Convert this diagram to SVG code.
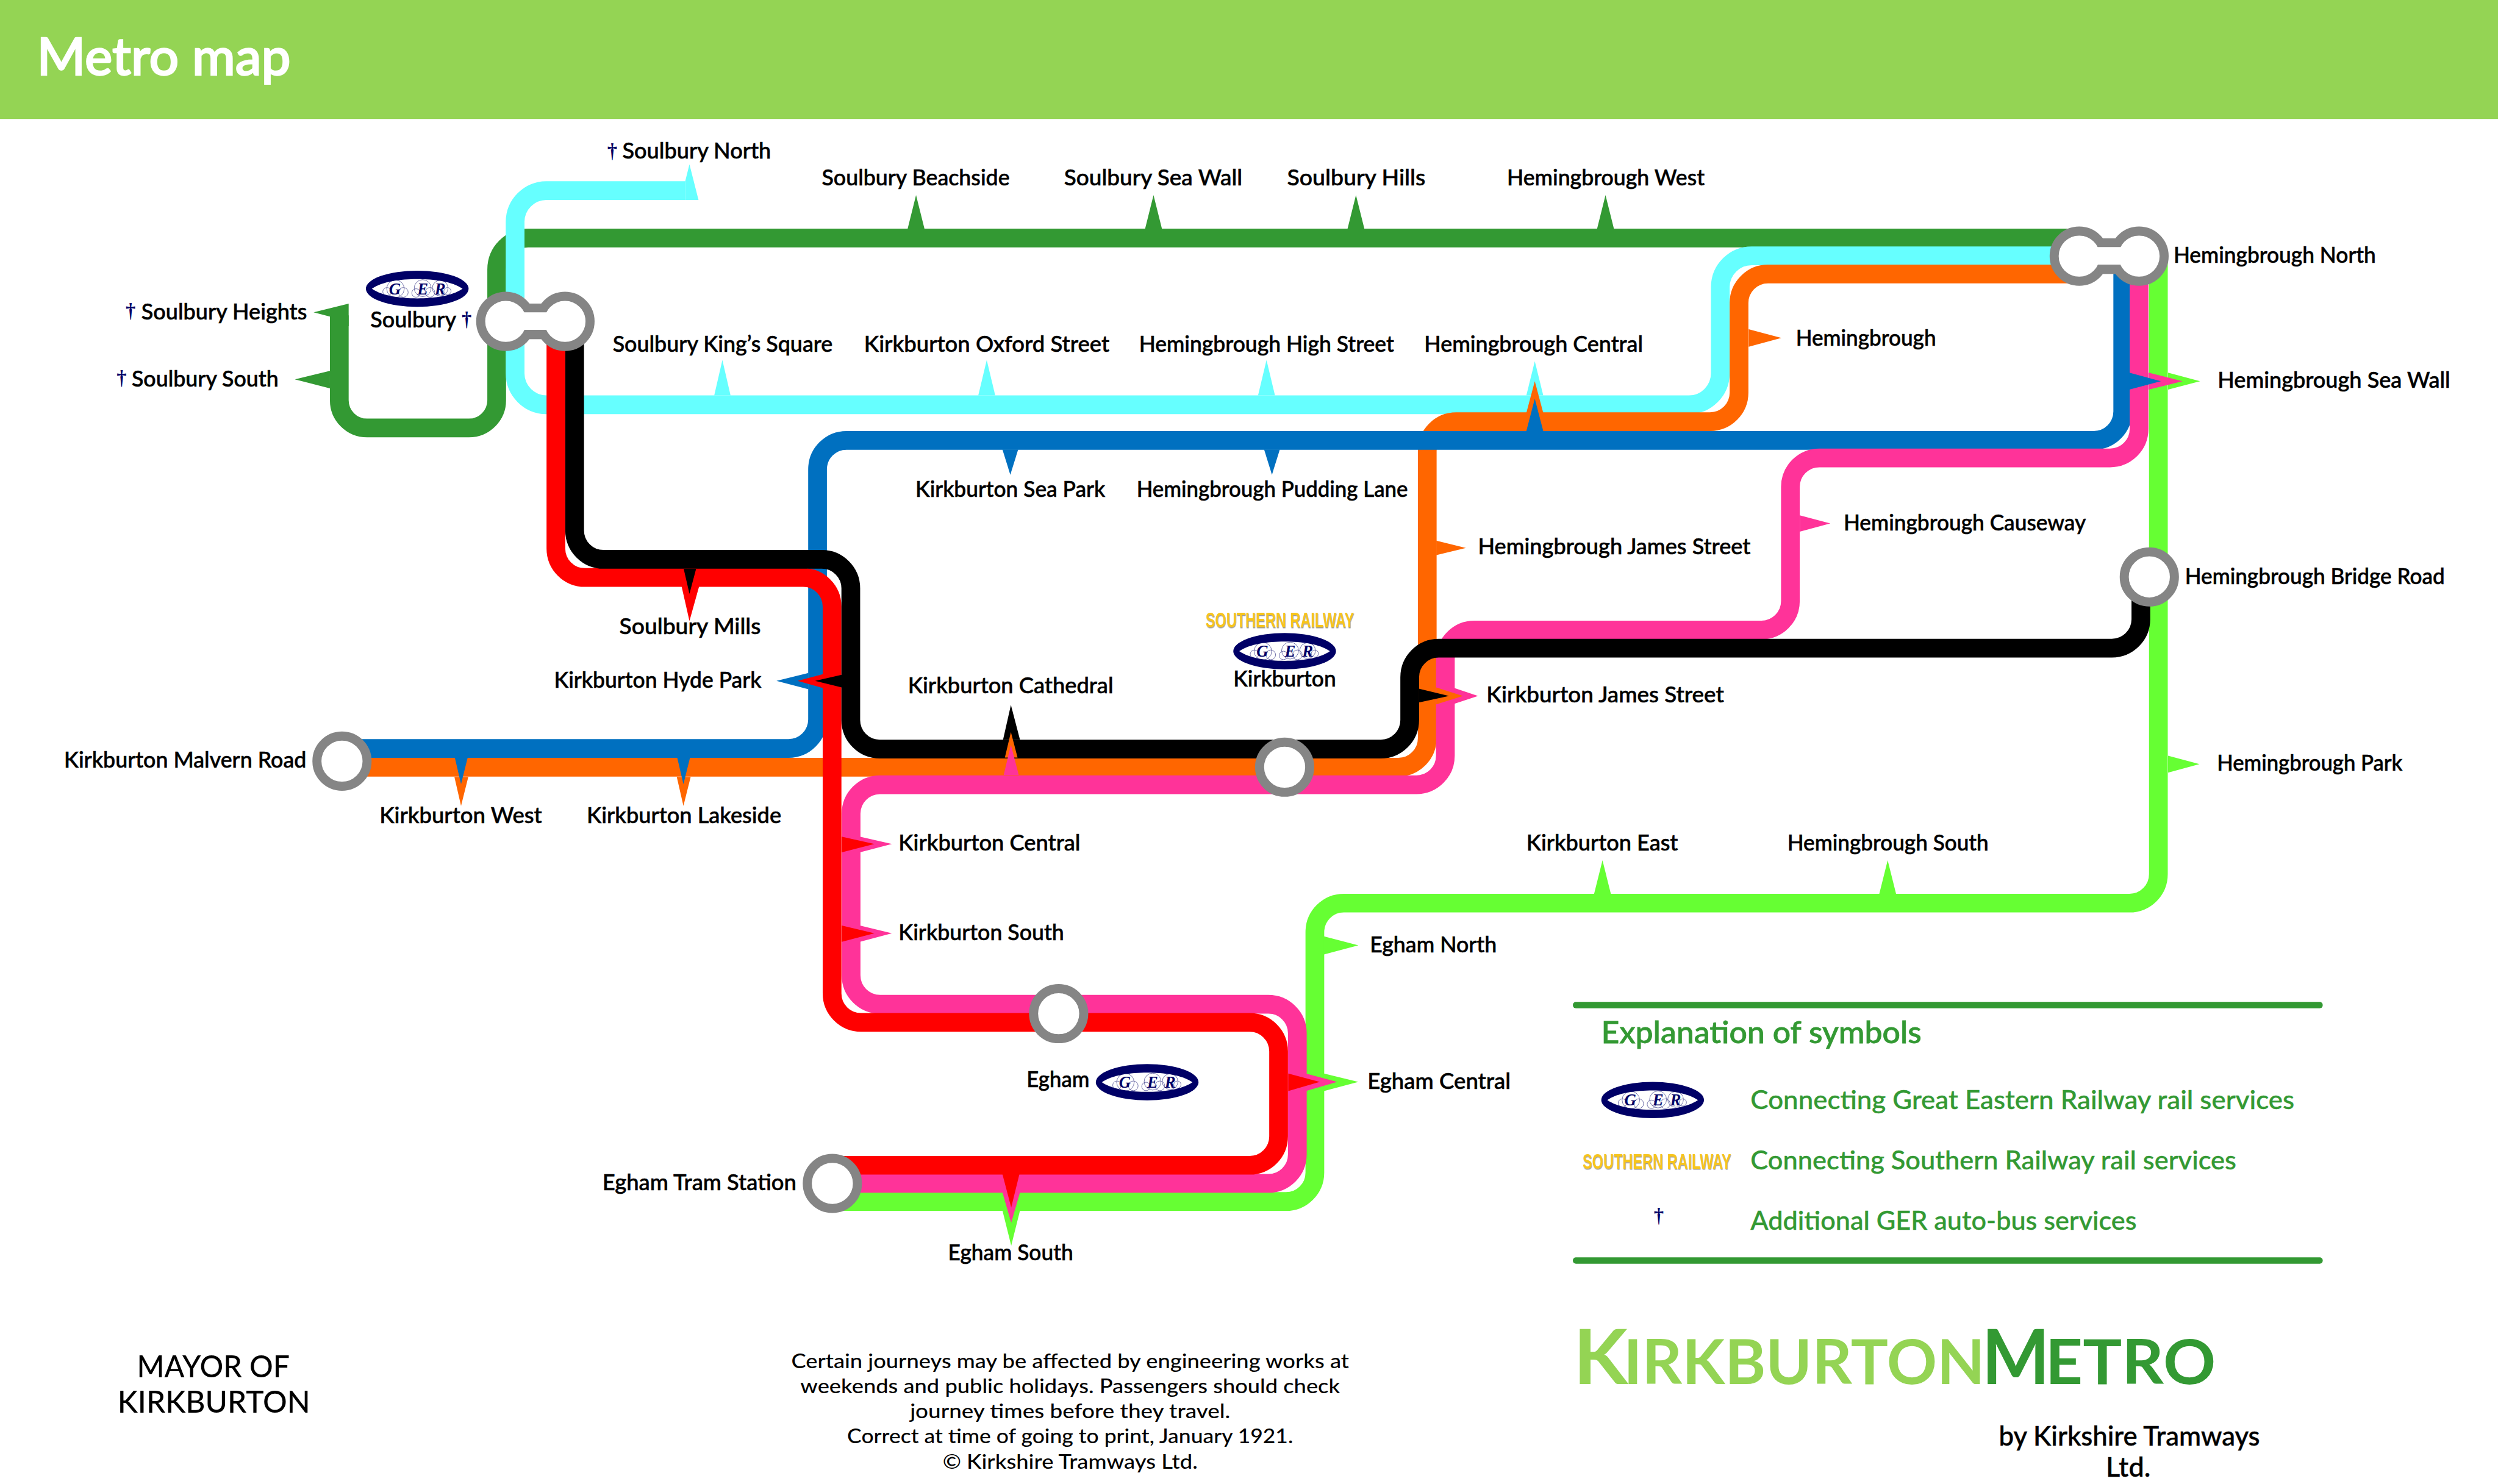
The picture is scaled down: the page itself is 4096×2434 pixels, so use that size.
<svg xmlns="http://www.w3.org/2000/svg" width="4096" height="2434" viewBox="0 0 4096 2434">
<style>
text{font-family:"Lato","Noto Sans",sans-serif;font-weight:500}
.s{font-size:36px;fill:#000;stroke:#000;stroke-width:.6}
.d{font-size:33px;fill:#000066;font-family:"Liberation Serif",serif;font-weight:700}
.l{font-size:42px;fill:#339933;stroke:#339933;stroke-width:.4}
.f{font-size:33px;fill:#000;text-anchor:middle}
.m{font-size:50px;fill:#000;text-anchor:middle}
.sr{font-size:36px;fill:#F7C51E;font-family:"Liberation Sans",sans-serif;font-weight:700;filter:url(#sh)}
.gl{font-family:"Liberation Serif",serif;font-style:italic;font-weight:700;font-size:27px;fill:#000066;text-anchor:middle}
.ln{fill:none;stroke-width:31}
.st{fill:#fff;stroke:#858585;stroke-width:15}
.lime{fill:#66FF33}.pink{fill:#FF3399}.red{fill:#FF0000}.blk{fill:#000}.org{fill:#FF6600}.blu{fill:#0070C0}.cya{fill:#66FFFF}.grn{fill:#339933}
</style>
<defs>
<filter id="sh" x="-5%" y="-20%" width="110%" height="150%"><feDropShadow dx="1" dy="1.5" stdDeviation="0.8" flood-color="#999"/></filter>
<g id="ger">
<path d="M-85,0A85,30 0 1 1 85,0A85,30 0 1 1 -85,0ZM-75,0C-58,-12 -28,-16 0,-16C28,-16 58,-12 75,0C58,12 28,16 0,16C-28,16 -58,12 -75,0Z" fill="#000066" fill-rule="evenodd"/>
<g fill="none" stroke="#000066" stroke-width="0.8" opacity=".7">
<circle cx="-36" cy="0" r="14.5"/><circle cx="-50" cy="5" r="7"/><circle cx="-23" cy="6" r="8"/>
<circle cx="9" cy="-1" r="14"/><circle cx="-2" cy="7" r="7"/><circle cx="21" cy="6" r="8"/>
<circle cx="38" cy="-1" r="13"/><circle cx="50" cy="4" r="6"/>
</g>
<text class="gl" x="-37" y="9">G</text>
<text class="gl" x="9" y="9">E</text>
<text class="gl" x="38" y="9">R</text>
</g>
</defs>
<rect width="4096" height="2434" fill="#fff"/>
<g transform="scale(0.9908)">
<g id="header"><rect width="4140" height="197" fill="#94D454"/>
<text x="61" y="124" font-size="86" fill="#fff" stroke="#fff" stroke-width="2.4" textLength="420" lengthAdjust="spacingAndGlyphs">Metro map</text></g>

<g id="connectors">
<path class="ln" stroke="#66FF33" d="M3572,424V1447A48,48 0 0 1 3524,1495H2224A48,48 0 0 0 2176,1543V1941A48,48 0 0 1 2128,1989H1377"/>
<path class="ln" stroke="#339933" d="M561.5,522V662A46,46 0 0 0 607.5,708.5H776A46,46 0 0 0 822,662V446A52,52 0 0 1 874,394H3441"/>
<path class="grn" d="M577,502.5L519,517L546,524V540H577Z"/>
<path class="ln" stroke="#66FFFF" d="M1134,315.5H904A52,52 0 0 0 852.5,367V618A52,52 0 0 0 904,670H2795A52,52 0 0 0 2847,618V475A52,52 0 0 1 2899,423.5H3441"/>
<path class="cya" d="M1134,300L1141,272L1156,331H1134Z"/>
<path class="ln" stroke="#FF6600" d="M566,1270H2314A48,48 0 0 0 2362,1222V746A48,48 0 0 1 2410,698H2830A48,48 0 0 0 2878,650V502A48,48 0 0 1 2926,453.5H3441"/>
<path class="ln" stroke="#0070C0" d="M566,1239H1305A48,48 0 0 0 1353,1191V777A48,48 0 0 1 1401,729H3465A48,48 0 0 0 3513,681V424"/>
<path class="ln" stroke="#FF3399" d="M3540,424V710A48,48 0 0 1 3492,758H3011A48,48 0 0 0 2963,806V995A48,48 0 0 1 2915,1043H2440A48,48 0 0 0 2392,1091V1251A48,48 0 0 1 2344,1299H1456A48,48 0 0 0 1408.5,1347V1614A48,48 0 0 0 1456.5,1662.5H2099A48,48 0 0 1 2147,1710V1911A48,48 0 0 1 2099,1959H1377"/>
<path class="ln" stroke="#FF0000" d="M920,532V908A48,48 0 0 0 968,956H1329A48,48 0 0 1 1377,1004V1644.5A48,48 0 0 0 1425,1692.5H2068A48,48 0 0 1 2116,1740.5V1881A48,48 0 0 1 2068,1929H1377"/>
<path class="ln" stroke="#000" d="M951,532V878A48,48 0 0 0 999,926H1360A48,48 0 0 1 1408,974V1192A48,48 0 0 0 1456,1240H2285A48,48 0 0 0 2333,1192V1121A48,48 0 0 1 2381,1073H3495A48,48 0 0 0 3543,1025V955"/>
</g>

<g id="st-soulbury-north"><text class="d" x="1005" y="261">†</text><text class="s" x="1030" y="262" textLength="246" lengthAdjust="spacingAndGlyphs">Soulbury North</text></g>
<g id="st-soulbury-beachside"><polygon class="grn" points="1502,379 1516,323 1530,379"/><text class="s" x="1360" y="307" textLength="311" lengthAdjust="spacingAndGlyphs">Soulbury Beachside</text></g>
<g id="st-soulbury-sea-wall"><polygon class="grn" points="1895,379 1909,323 1923,379"/><text class="s" x="1761" y="307" textLength="295" lengthAdjust="spacingAndGlyphs">Soulbury Sea Wall</text></g>
<g id="st-soulbury-hills"><polygon class="grn" points="2230,379 2244,323 2258,379"/><text class="s" x="2130" y="307" textLength="229" lengthAdjust="spacingAndGlyphs">Soulbury Hills</text></g>
<g id="st-hemingbrough-west"><polygon class="grn" points="2643,379 2657,323 2671,379"/><text class="s" x="2494" y="307" textLength="327" lengthAdjust="spacingAndGlyphs">Hemingbrough West</text></g>

<g id="st-soulbury-heights"><text class="d" x="208" y="526">†</text><text class="s" x="234" y="529" textLength="274" lengthAdjust="spacingAndGlyphs">Soulbury Heights</text></g>
<g id="st-soulbury-south"><polygon class="grn" points="546,614 488,628 546,643"/><text class="d" x="193" y="637">†</text><text class="s" x="218" y="640" textLength="243" lengthAdjust="spacingAndGlyphs">Soulbury South</text></g>

<g id="st-soulbury"><use href="#ger" x="690.5" y="478"/><text class="s" x="613" y="542" textLength="142" lengthAdjust="spacingAndGlyphs">Soulbury</text><text class="d" x="764" y="540">†</text>
<circle class="st" cx="837" cy="532" r="41.5"/><circle class="st" cx="935" cy="532" r="41.5"/><rect x="868" y="502.5" width="36" height="59" fill="#858585"/><rect x="860" y="517" width="52" height="29" fill="#fff"/></g>

<g id="st-soulbury-kings-square"><polygon class="cya" points="1182,654.5 1195.5,596 1209,654.5"/><text class="s" x="1014" y="582" textLength="364" lengthAdjust="spacingAndGlyphs">Soulbury King’s Square</text></g>
<g id="st-kirkburton-oxford-street"><polygon class="cya" points="1619,654.5 1633,596 1647,654.5"/><text class="s" x="1430" y="582" textLength="406" lengthAdjust="spacingAndGlyphs">Kirkburton Oxford Street</text></g>
<g id="st-hemingbrough-high-street"><polygon class="cya" points="2082,654.5 2096,596 2110,654.5"/><text class="s" x="1885" y="582" textLength="422" lengthAdjust="spacingAndGlyphs">Hemingbrough High Street</text></g>
<g id="st-hemingbrough-central"><polygon class="cya" points="2526,654.5 2540,598 2554,654.5"/><polygon class="org" points="2526,683.5 2540,631 2554,683.5"/><polygon class="blu" points="2526,713.5 2540,660 2554,713.5"/><text class="s" x="2357" y="582" textLength="362" lengthAdjust="spacingAndGlyphs">Hemingbrough Central</text></g>
<g id="st-hemingbrough"><polygon class="org" points="2894,545 2948,559.5 2894,574"/><text class="s" x="2972" y="572" textLength="232" lengthAdjust="spacingAndGlyphs">Hemingbrough</text></g>
<g id="st-kirkburton-sea-park"><polygon class="blu" points="1659,744 1672,786 1685,744"/><text class="s" x="1515" y="823" textLength="314" lengthAdjust="spacingAndGlyphs">Kirkburton Sea Park</text></g>
<g id="st-hemingbrough-pudding-lane"><polygon class="blu" points="2092,744 2105,786 2118,744"/><text class="s" x="1881" y="823" textLength="449" lengthAdjust="spacingAndGlyphs">Hemingbrough Pudding Lane</text></g>
<g id="st-hemingbrough-james-street"><polygon class="org" points="2377,895 2426,907 2377,919"/><text class="s" x="2446" y="917" textLength="451" lengthAdjust="spacingAndGlyphs">Hemingbrough James Street</text></g>
<g id="st-hemingbrough-causeway"><polygon class="pink" points="2978.6,853 3029,866.5 2978.6,880"/><text class="s" x="3051" y="878" textLength="401" lengthAdjust="spacingAndGlyphs">Hemingbrough Causeway</text></g>
<g id="st-soulbury-mills"><polygon class="red" points="1128,970.7 1141,1028 1157,970.7"/><polygon class="blk" points="1131.5,941.7 1141,983 1152,941.7"/><text class="s" x="1025" y="1050" textLength="234" lengthAdjust="spacingAndGlyphs">Soulbury Mills</text></g>
<g id="st-kirkburton-hyde-park"><polygon class="blu" points="1338,1114 1285,1127 1338,1141"/><polygon class="red" points="1362,1116 1320,1127 1362,1139"/><polygon class="blk" points="1393,1117 1349,1127 1393,1138"/><text class="s" x="917" y="1138" textLength="343" lengthAdjust="spacingAndGlyphs">Kirkburton Hyde Park</text></g>
<g id="st-kirkburton-cathedral"><polygon class="blk" points="1660,1224.5 1673,1167 1688,1224.5"/><polygon class="org" points="1663,1254 1673,1212 1684,1254"/><polygon class="pink" points="1661,1283 1673,1233 1686,1283"/><text class="s" x="1502.6" y="1148" textLength="340" lengthAdjust="spacingAndGlyphs">Kirkburton Cathedral</text></g>
<g id="st-kirkburton"><text class="sr" transform="translate(1995,1039) scale(.66,1)">SOUTHERN RAILWAY</text><use href="#ger" x="2126" y="1078"/><text class="s" x="2041" y="1136" textLength="170" lengthAdjust="spacingAndGlyphs">Kirkburton</text><circle class="st" cx="2126" cy="1270" r="41.5"/></g>
<g id="st-kirkburton-james-street"><polygon class="pink" points="2407,1139 2446,1152 2407,1165"/><polygon class="org" points="2377,1138 2421,1152 2377,1166"/><polygon class="blk" points="2348,1140 2398,1152 2348,1163"/><text class="s" x="2460" y="1163" textLength="393" lengthAdjust="spacingAndGlyphs">Kirkburton James Street</text></g>
<g id="st-kirkburton-malvern-road"><text class="s" x="106" y="1271" textLength="401" lengthAdjust="spacingAndGlyphs">Kirkburton Malvern Road</text><circle class="st" cx="566" cy="1260" r="41.5"/></g>
<g id="st-kirkburton-west"><polygon class="org" points="752,1286 763,1334 775,1286"/><polygon class="blu" points="752.7,1254 763,1298 774,1254"/><text class="s" x="628" y="1363" textLength="269" lengthAdjust="spacingAndGlyphs">Kirkburton West</text></g>
<g id="st-kirkburton-lakeside"><polygon class="org" points="1120,1286 1131,1334 1143,1286"/><polygon class="blu" points="1120.7,1254 1131,1298 1142,1254"/><text class="s" x="971" y="1363" textLength="322" lengthAdjust="spacingAndGlyphs">Kirkburton Lakeside</text></g>
<g id="st-kirkburton-central"><polygon class="pink" points="1423,1385 1476,1397 1423,1411"/><polygon class="red" points="1393,1385 1447,1397 1393,1411"/><text class="s" x="1487" y="1408" textLength="301" lengthAdjust="spacingAndGlyphs">Kirkburton Central</text></g>
<g id="st-kirkburton-south"><polygon class="pink" points="1423,1532 1476,1545 1423,1559"/><polygon class="red" points="1393,1532 1447,1545 1393,1559"/><text class="s" x="1487" y="1556" textLength="274" lengthAdjust="spacingAndGlyphs">Kirkburton South</text></g>
<g id="st-egham"><circle class="st" cx="1752" cy="1678" r="41.5"/><text class="s" x="1699" y="1800" textLength="104" lengthAdjust="spacingAndGlyphs">Egham</text><use href="#ger" x="1898.5" y="1791.5"/></g>
<g id="st-egham-tram-station"><text class="s" x="997" y="1970" textLength="321" lengthAdjust="spacingAndGlyphs">Egham Tram Station</text><circle class="st" cx="1377.5" cy="1959" r="41.5"/></g>
<g id="st-egham-south"><polygon class="lime" points="1659,2004 1673.5,2062 1688,2004"/><polygon class="pink" points="1659,1974 1673.5,2024 1688,1974"/><polygon class="red" points="1659,1944 1673.5,1999 1687,1944"/><text class="s" x="1569" y="2086" textLength="207" lengthAdjust="spacingAndGlyphs">Egham South</text></g>
<g id="st-egham-central"><polygon class="lime" points="2191,1777 2248,1791 2191,1806"/><polygon class="pink" points="2161,1777 2213,1791 2161,1806"/><polygon class="red" points="2132,1777 2184,1791 2132,1806"/><text class="s" x="2263" y="1803" textLength="237" lengthAdjust="spacingAndGlyphs">Egham Central</text></g>
<g id="st-egham-north"><polygon class="lime" points="2191,1550 2248,1565 2191,1580"/><text class="s" x="2267" y="1576" textLength="210" lengthAdjust="spacingAndGlyphs">Egham North</text></g>
<g id="st-kirkburton-east"><polygon class="lime" points="2638,1480 2652,1424 2666,1480"/><text class="s" x="2526" y="1408" textLength="251" lengthAdjust="spacingAndGlyphs">Kirkburton East</text></g>
<g id="st-hemingbrough-south"><polygon class="lime" points="3110,1480 3124,1424 3138,1480"/><text class="s" x="2958" y="1408" textLength="333" lengthAdjust="spacingAndGlyphs">Hemingbrough South</text></g>
<g id="st-hemingbrough-park"><polygon class="lime" points="3588,1251 3640,1265 3588,1279"/><text class="s" x="3669" y="1276" textLength="307" lengthAdjust="spacingAndGlyphs">Hemingbrough Park</text></g>
<g id="st-hemingbrough-bridge-road"><circle class="st" cx="3557" cy="955" r="41.5"/><text class="s" x="3616" y="967" textLength="430" lengthAdjust="spacingAndGlyphs">Hemingbrough Bridge Road</text></g>
<g id="st-hemingbrough-sea-wall"><polygon class="lime" points="3588,617 3641,631 3588,645"/><polygon class="pink" points="3556,617 3612,631 3556,645"/><polygon class="blu" points="3524,617 3576,631 3524,645"/><text class="s" x="3670" y="642" textLength="385" lengthAdjust="spacingAndGlyphs">Hemingbrough Sea Wall</text></g>
<g id="st-hemingbrough-north"><circle class="st" cx="3441" cy="424" r="41.5"/><circle class="st" cx="3540" cy="424" r="41.5"/><rect x="3472" y="394.5" width="37" height="59" fill="#858585"/><rect x="3464" y="409" width="53" height="29" fill="#fff"/><text class="s" x="3597" y="435" textLength="335" lengthAdjust="spacingAndGlyphs">Hemingbrough North</text></g>

<g id="legend">
<rect x="2603" y="1658.5" width="1241" height="10.5" rx="5" fill="#339933"/>
<rect x="2603" y="2081.5" width="1241" height="10.5" rx="5" fill="#339933"/>
<text x="2650" y="1727" font-size="50" fill="#339933" stroke="#339933" stroke-width=".8" textLength="530" lengthAdjust="spacingAndGlyphs">Explanation of symbols</text>
<use href="#ger" x="2735" y="1821"/>
<text class="l" x="2897" y="1836" textLength="900" lengthAdjust="spacingAndGlyphs">Connecting Great Eastern Railway rail services</text>
<text class="sr" transform="translate(2619,1935) scale(.66,1)">SOUTHERN RAILWAY</text>
<text class="l" x="2897" y="1936" textLength="804" lengthAdjust="spacingAndGlyphs">Connecting Southern Railway rail services</text>
<text class="d" x="2737" y="2024">†</text>
<text class="l" x="2897" y="2036" textLength="639" lengthAdjust="spacingAndGlyphs">Additional GER auto-bus services</text>
</g>

<g id="brand">
<text y="2291" style="font-weight:700"><tspan x="2604" font-size="125" fill="#94D454" textLength="90" lengthAdjust="spacingAndGlyphs">K</tspan><tspan x="2687" font-size="103" fill="#94D454" textLength="598" lengthAdjust="spacingAndGlyphs">IRKBURTON</tspan><tspan x="3280" font-size="125" fill="#339933" textLength="112" lengthAdjust="spacingAndGlyphs">M</tspan><tspan x="3385" font-size="103" fill="#339933" textLength="282" lengthAdjust="spacingAndGlyphs">ETRO</tspan></text>
<text x="3308" y="2393" font-size="45" fill="#000" stroke="#000" stroke-width=".5" textLength="432" lengthAdjust="spacingAndGlyphs">by Kirkshire Tramways</text>
<text x="3485" y="2444" font-size="45" fill="#000" stroke="#000" stroke-width=".5" textLength="74" lengthAdjust="spacingAndGlyphs">Ltd.</text>
</g>
<g id="footer">
<text class="m" x="353" y="2280" textLength="253" lengthAdjust="spacingAndGlyphs">MAYOR OF</text>
<text class="m" x="354" y="2339" textLength="319" lengthAdjust="spacingAndGlyphs">KIRKBURTON</text>
<text class="f" x="1771" y="2265" textLength="923" lengthAdjust="spacingAndGlyphs">Certain journeys may be affected by engineering works at</text>
<text class="f" x="1771" y="2306" textLength="893" lengthAdjust="spacingAndGlyphs">weekends and public holidays. Passengers should check</text>
<text class="f" x="1771" y="2348" textLength="530" lengthAdjust="spacingAndGlyphs">journey times before they travel.</text>
<text class="f" x="1771" y="2389" textLength="738" lengthAdjust="spacingAndGlyphs">Correct at time of going to print, January 1921.</text>
<text class="f" x="1771" y="2431" textLength="422" lengthAdjust="spacingAndGlyphs">© Kirkshire Tramways Ltd.</text>
</g>
</g>
</svg>
